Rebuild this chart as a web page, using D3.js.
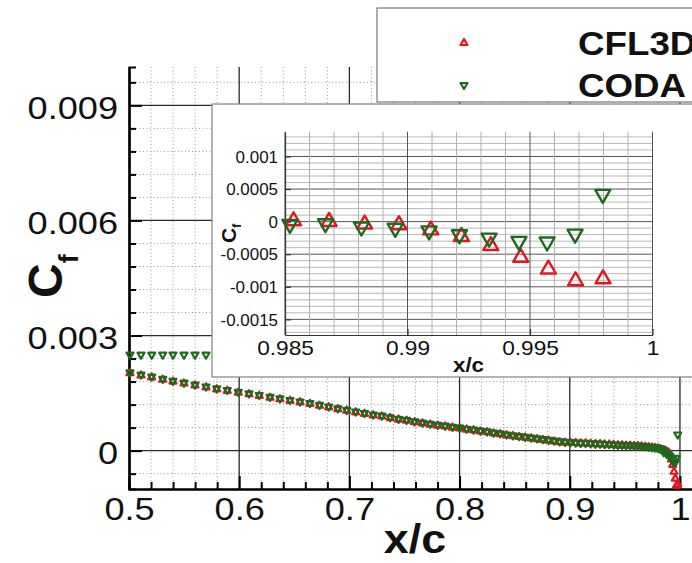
<!DOCTYPE html>
<html>
<head>
<meta charset="utf-8">
<script src="https://cdnjs.cloudflare.com/ajax/libs/d3/7.8.5/d3.min.js"></script>
<style>
  html, body { margin: 0; padding: 0; background: #fff; }
  svg { display: block; }
  text { font-family: "Liberation Sans", Arial, sans-serif; fill: #111; }
</style>
</head>
<body>
<svg width="692" height="563"></svg>
<script>
// x/c stations along the chord (main curve, both codes)
var xc = [
  0.5009, 0.5109, 0.5206, 0.5306, 0.5399, 0.5499, 0.5599, 0.5699, 0.5796, 0.5892,
  0.5992, 0.6089, 0.6182, 0.6280, 0.6370, 0.6461, 0.6552, 0.6642, 0.6729, 0.6812,
  0.6895, 0.6976, 0.7057, 0.7137, 0.7216, 0.7294, 0.7370, 0.7446, 0.7519, 0.7592,
  0.7663, 0.7733, 0.7802, 0.7869, 0.7936, 0.8001, 0.8064, 0.8127, 0.8189, 0.8250,
  0.8309, 0.8368, 0.8427, 0.8484, 0.8540, 0.8595, 0.8650, 0.8703, 0.8756, 0.8808,
  0.8858, 0.8908, 0.8957, 0.9005, 0.9053, 0.9099, 0.9144, 0.9189, 0.9232, 0.9275,
  0.9317, 0.9358, 0.9398, 0.9437, 0.9475, 0.9512, 0.9548, 0.9584, 0.9618, 0.9652,
  0.9684, 0.9716, 0.9745, 0.9772, 0.9798, 0.9820, 0.9839
];
var cfCFL3D = [
  0.00202, 0.00196, 0.00191, 0.00185, 0.00180, 0.00175, 0.00170, 0.00165, 0.00160, 0.00156,
  0.00151, 0.00147, 0.00143, 0.00138, 0.00134, 0.00130, 0.00126, 0.00122, 0.00117, 0.00113,
  0.00108, 0.00104, 0.00100, 0.00096, 0.00092, 0.00089, 0.00085, 0.00081, 0.00078, 0.00074,
  0.00071, 0.00068, 0.00065, 0.00063, 0.00060, 0.00058, 0.00055, 0.00053, 0.00050, 0.00048,
  0.00045, 0.00043, 0.00040, 0.00038, 0.00036, 0.00034, 0.00032, 0.00030, 0.00028, 0.00026,
  0.00024, 0.00022, 0.00021, 0.00021, 0.00020, 0.00019, 0.00019, 0.00018, 0.00017, 0.00017,
  0.00016, 0.00016, 0.00015, 0.00014, 0.00014, 0.00013, 0.00013, 0.00012, 0.00012, 0.00011,
  0.00010, 0.00009, 0.00008, 0.00007, 0.00006, 0.00004, 0.00002
];
var cfCODA = [
  0.00204, 0.00198, 0.00193, 0.00187, 0.00182, 0.00177, 0.00172, 0.00167, 0.00162, 0.00158,
  0.00153, 0.00149, 0.00145, 0.00140, 0.00136, 0.00132, 0.00128, 0.00124, 0.00119, 0.00115,
  0.00110, 0.00106, 0.00102, 0.00098, 0.00094, 0.00091, 0.00087, 0.00083, 0.00080, 0.00076,
  0.00073, 0.00070, 0.00067, 0.00065, 0.00062, 0.00060, 0.00057, 0.00055, 0.00052, 0.00050,
  0.00047, 0.00045, 0.00042, 0.00040, 0.00038, 0.00036, 0.00034, 0.00032, 0.00030, 0.00028,
  0.00026, 0.00024, 0.00023, 0.00022, 0.00021, 0.00020, 0.00020, 0.00019, 0.00018, 0.00018,
  0.00017, 0.00017, 0.00016, 0.00015, 0.00015, 0.00014, 0.00014, 0.00013, 0.00013, 0.00012,
  0.00011, 0.00010, 0.00009, 0.00008, 0.00007, 0.00005, 0.00003
];

// second CODA branch seen at the left (up to where the inset hides it)
var xcCODA2 = [0.5009, 0.5109, 0.5206, 0.5306, 0.5399, 0.5499, 0.5599, 0.5699];
var cfCODA2 = [0.00250, 0.00250, 0.00250, 0.00250, 0.00250, 0.00250, 0.00250, 0.00250];

// trailing edge points (shown in both plots)
var xcTeCFL3D = [0.98535, 0.98680, 0.98825, 0.98965, 0.99095, 0.99220, 0.99340, 0.99462, 0.99575, 0.99686, 0.99798];
var cfTeCFL3D = [0.00001, 0.00000, -0.00004, -0.00005, -0.00013, -0.00023, -0.00037, -0.00055, -0.00073, -0.00091, -0.00088];
var xcTeCODA = [0.98520, 0.98665, 0.98812, 0.98950, 0.99088, 0.99212, 0.99333, 0.99455, 0.99570, 0.99684, 0.99797];
var cfTeCODA = [-0.00004, -0.00003, -0.00008, -0.00010, -0.00014, -0.00020, -0.00025, -0.00030, -0.00031, -0.00019, 0.00042];

// tick labels
var xTicks = [0.5, 0.6, 0.7, 0.8, 0.9, 1];
var yTicks = [0, 0.003, 0.006, 0.009];
var xTicksIn = [0.985, 0.99, 0.995, 1];
var yTicksIn = [-0.0015, -0.001, -0.0005, 0, 0.0005, 0.001];
var seriesNames = ["CFL3D", "CODA"];

var RED = "#e2161e", GREEN = "#1d6a1d";

var svg = d3.select("svg");

function zip(xs, ys) { return xs.map(function(v, i) { return [v, ys[i]]; }); }

// widen text a bit, the source render is horizontally stretched
function stretch(sel, k) {
  sel.each(function() {
    var w = this.getComputedTextLength();
    d3.select(this).attr("textLength", w * k).attr("lengthAdjust", "spacingAndGlyphs");
  });
}

//---------------- main plot
var x = d3.scaleLinear().domain([0.5, 1.02]).range([129, 702]);
var y = d3.scaleLinear().domain([-0.001, 0.01]).range([489, 67]);

var xMinor = d3.range(0, 27).map(function(i) { return +(0.5 + i * 0.02).toFixed(2); })
  .filter(function(d) { return xTicks.indexOf(d) < 0; });
var yMinor = d3.range(-1, 17).map(function(i) { return +(i * 0.0006).toFixed(4); })
  .filter(function(d) { return d > -0.001 && d < 0.01 && Math.abs(d % 0.003) > 1e-9 && Math.abs(d % 0.003 - 0.003) > 1e-9; });

var main = svg.append("g");

// dotted minor grid
main.append("g").selectAll("line").data(xMinor).enter().append("line")
  .attr("x1", d => x(d)).attr("x2", d => x(d)).attr("y1", y(0.01)).attr("y2", y(-0.001))
  .attr("stroke", "#9a9a9a").attr("stroke-width", 1).attr("stroke-dasharray", "1,2.5");
main.append("g").selectAll("line").data(yMinor).enter().append("line")
  .attr("x1", x(0.5)).attr("x2", x(1.02)).attr("y1", d => y(d)).attr("y2", d => y(d))
  .attr("stroke", "#9a9a9a").attr("stroke-width", 1).attr("stroke-dasharray", "1,2.5");

// solid major grid
main.append("g").selectAll("line").data(xTicks.slice(1)).enter().append("line")
  .attr("x1", d => x(d)).attr("x2", d => x(d)).attr("y1", y(0.01)).attr("y2", y(-0.001))
  .attr("stroke", "#2a2a2a").attr("stroke-width", 1.3);
main.append("g").selectAll("line").data(yTicks).enter().append("line")
  .attr("x1", x(0.5)).attr("x2", x(1.02)).attr("y1", d => y(d)).attr("y2", d => y(d))
  .attr("stroke", "#2a2a2a").attr("stroke-width", 1.3);

// axes
var yAxis = main.append("g").attr("transform", "translate(" + x(0.5) + ",0)")
  .call(d3.axisLeft(y).tickValues(yTicks).tickSizeInner(-13).tickSizeOuter(0).tickPadding(11)
    .tickFormat(d => d === 0 ? "0" : d3.format(".3f")(d)));
main.append("g").attr("transform", "translate(" + x(0.5) + ",0)")
  .call(d3.axisLeft(y).tickValues(yMinor).tickSize(-7).tickFormat(""));
var xAxis = main.append("g").attr("transform", "translate(0," + y(-0.001) + ")")
  .call(d3.axisBottom(x).tickValues(xTicks).tickSizeInner(-13).tickSizeOuter(0).tickPadding(8)
    .tickFormat(d => String(d)));
main.append("g").attr("transform", "translate(0," + y(-0.001) + ")")
  .call(d3.axisBottom(x).tickValues(xMinor).tickSize(-7).tickFormat(""));

main.selectAll(".domain").attr("stroke", "#000").attr("stroke-width", 2.2);
main.selectAll(".tick line").attr("stroke", "#000").attr("stroke-width", 2);
yAxis.selectAll("text").attr("font-size", 32).attr("dy", "0.4em").attr("fill", "#111");
xAxis.selectAll("text").attr("font-size", 32).attr("fill", "#111");
stretch(yAxis.selectAll("text"), 1.13);
stretch(xAxis.selectAll("text"), 1.13);

// titles
var xt = svg.append("text").attr("x", 415).attr("y", 553).attr("text-anchor", "middle")
  .attr("font-size", 40).attr("font-weight", "bold").text("x/c");
stretch(xt, 1.12);
var yt = svg.append("text").attr("transform", "translate(62,298) rotate(-90)")
  .attr("font-size", 48).attr("font-weight", "bold");
yt.append("tspan").text("C");
yt.append("tspan").attr("font-size", 27).attr("dy", 16).text("f");

// markers
var triUp = d3.symbol().type(d3.symbolTriangle);
function drawMarkers(g, pts, sx, sy, color, up, w, sw) {
  var area = Math.sqrt(3) / 4 * w * w;
  g.append("g").selectAll("path").data(pts).enter().append("path")
    .attr("d", triUp.size(area)())
    .attr("transform", d => "translate(" + sx(d[0]) + "," + sy(d[1]) + ")" + (up ? "" : " rotate(180)"))
    .attr("fill", "none").attr("stroke", color).attr("stroke-width", sw)
    .attr("stroke-linejoin", "round");
}

var redMain = zip(xc, cfCFL3D).concat(zip(xcTeCFL3D, cfTeCFL3D));
var greenMain = zip(xc, cfCODA).concat(zip(xcTeCODA, cfTeCODA));
drawMarkers(main, redMain, x, y, RED, true, 7, 2.2);
drawMarkers(main, zip(xcCODA2, cfCODA2), x, y, GREEN, false, 7, 2.2);
drawMarkers(main, greenMain, x, y, GREEN, false, 7, 2.2);

//---------------- legend
var leg = svg.append("g");
leg.append("rect").attr("x", 377).attr("y", 8).attr("width", 340).attr("height", 94)
  .attr("fill", "#fff").attr("stroke", "#777").attr("stroke-width", 1.2);
var legY = d3.scalePoint().domain(seriesNames).range([43, 85]);
seriesNames.forEach(function(name, i) {
  var g = leg.append("g");
  g.append("path").attr("d", triUp.size(Math.sqrt(3) / 4 * 49)())
    .attr("transform", "translate(464," + legY(name) + ")" + (i ? " rotate(180)" : ""))
    .attr("fill", "none").attr("stroke", i ? GREEN : RED).attr("stroke-width", 2.2)
    .attr("stroke-linejoin", "round");
  var t = g.append("text").attr("x", 578).attr("y", legY(name) + 12)
    .attr("font-size", 34).attr("font-weight", "bold").text(name);
  stretch(t, 1.08);
});

//---------------- inset
var ins = svg.append("g");
ins.append("rect").attr("x", 212).attr("y", 104).attr("width", 500).attr("height", 273)
  .attr("fill", "#fff").attr("stroke", "#808080").attr("stroke-width", 1.2);

var xi = d3.scaleLinear().domain([0.985, 1.0]).range([285, 652.5]);
var yi = d3.scaleLinear().domain([-0.00174, 0.00138]).range([335, 131.7]);

var xiMinor = d3.range(0, 16).map(function(i) { return +(0.985 + i * 0.001).toFixed(3); });
var yiMinor = d3.range(-17, 14).map(function(i) { return +(i * 0.0001).toFixed(4); });

ins.append("g").selectAll("line").data(yiMinor).enter().append("line")
  .attr("x1", xi(0.985)).attr("x2", xi(1)).attr("y1", d => yi(d)).attr("y2", d => yi(d))
  .attr("stroke", d => yTicksIn.indexOf(d) >= 0 ? "#555" : "#b8b8b8").attr("stroke-width", 1);
ins.append("g").selectAll("line").data(xiMinor).enter().append("line")
  .attr("x1", d => xi(d)).attr("x2", d => xi(d)).attr("y1", yi(0.00138)).attr("y2", yi(-0.00174))
  .attr("stroke", d => xTicksIn.indexOf(d) >= 0 ? "#555" : "#b0b0b0").attr("stroke-width", 1);

var yAxisIn = ins.append("g").attr("transform", "translate(" + xi(0.985) + ",0)")
  .call(d3.axisLeft(yi).tickValues(yTicksIn).tickSizeInner(-6).tickSizeOuter(0).tickPadding(7)
    .tickFormat(d => d3.format("~g")(d).replace("\u2212", "-")));
var xAxisIn = ins.append("g").attr("transform", "translate(0," + yi(-0.00174) + ")")
  .call(d3.axisBottom(xi).tickValues(xTicksIn).tickSizeInner(-6).tickSizeOuter(0).tickPadding(5)
    .tickFormat(d => String(d)));
ins.selectAll(".domain").attr("stroke", "#333").attr("stroke-width", 1.2);
ins.selectAll(".tick line").attr("stroke", "#333").attr("stroke-width", 1.2);
yAxisIn.selectAll("text").attr("font-size", 16).attr("dy", "0.36em").attr("fill", "#111");
xAxisIn.selectAll("text").attr("font-size", 21).attr("fill", "#111");
stretch(yAxisIn.selectAll("text"), 1.06);
stretch(xAxisIn.selectAll("text"), 1.08);

var xti = ins.append("text").attr("x", 468.5).attr("y", 372).attr("text-anchor", "middle")
  .attr("font-size", 20).attr("font-weight", "bold").text("x/c");
stretch(xti, 1.12);
var yti = ins.append("text").attr("transform", "translate(236,243) rotate(-90)")
  .attr("font-size", 21).attr("font-weight", "bold");
yti.append("tspan").text("C");
yti.append("tspan").attr("font-size", 12).attr("dy", 5).text("f");

drawMarkers(ins, zip(xcTeCFL3D, cfTeCFL3D), xi, yi, RED, true, 15, 2.4);
drawMarkers(ins, zip(xcTeCODA, cfTeCODA), xi, yi, GREEN, false, 15, 2.4);
</script>
</body>
</html>
